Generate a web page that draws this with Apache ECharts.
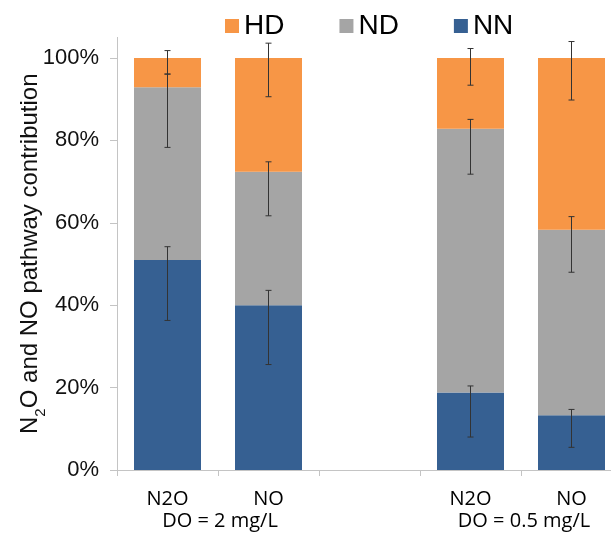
<!DOCTYPE html>
<html>
<head>
<meta charset="utf-8">
<script src="https://cdn.jsdelivr.net/npm/echarts@6/dist/echarts.min.js"></script>
<style>
  html, body { margin: 0; padding: 0; background: #fff; }
  #chart { width: 611px; height: 534px; }
</style>
</head>
<body>
<div id="chart"></div>
<script>
// ---- data (percent) ----
const categories = ['N2O', 'NO', '', 'N2O', 'NO'];
const groupLabels = ['DO = 2 mg/L', 'DO = 0.5 mg/L'];
const yTicks = [0, 20, 40, 60, 80, 100];

const NN = [51.0, 40.0, null, 18.8, 13.3];
const ND = [41.9, 32.4, null, 64.0, 45.0];
const HD = [7.1, 27.6, null, 17.2, 41.7];

// error bar extents [low, high] in stacked (cumulative) percent
const NN_err = [[36.3, 54.2], [25.6, 43.6], null, [8.0, 20.4], [5.5, 14.7]];
const ND_err = [[78.3, 96.1], [61.7, 74.8], null, [71.8, 85.1], [48.0, 61.5]];
const HD_err = [[96.1, 101.8], [90.6, 103.6], null, [93.4, 102.3], [89.8, 104.0]];

const colors = { HD: '#F79646', ND: '#A5A5A5', NN: '#366092' };

function errData(arr) {
  const out = [];
  arr.forEach((e, i) => { if (e) out.push([i, e[0], e[1]]); });
  return out;
}

function renderErr(params, api) {
  const x = api.value(0);
  const lo = api.coord([x, api.value(1)]);
  const hi = api.coord([x, api.value(2)]);
  const w = 3;
  const style = { stroke: '#333333', lineWidth: 1 };
  return {
    type: 'group',
    children: [
      { type: 'line', shape: { x1: hi[0], y1: hi[1], x2: lo[0], y2: lo[1] }, style },
      { type: 'line', shape: { x1: hi[0] - w, y1: hi[1], x2: hi[0] + w, y2: hi[1] }, style },
      { type: 'line', shape: { x1: lo[0] - w, y1: lo[1], x2: lo[0] + w, y2: lo[1] }, style }
    ]
  };
}

const chart = echarts.init(document.getElementById('chart'), null, { renderer: 'canvas' });

const barCommon = { type: 'bar', stack: 'total', barWidth: 67 };
const errCommon = { type: 'custom', renderItem: renderErr, encode: { x: 0, y: [1, 2] }, z: 10, silent: true, clip: false };

chart.setOption({
  animation: false,
  backgroundColor: '#ffffff',
  legend: {
    data: ['HD', 'ND', 'NN'],
    left: 220,
    top: 7,
    icon: 'rect',
    itemWidth: 14,
    itemHeight: 14,
    itemGap: 55,
    textStyle: { fontFamily: 'Liberation Sans', fontSize: 28, color: '#000' }
  },
  grid: { left: 117, top: 37.4, width: 505, height: 432.6, containLabel: false, outerBoundsMode: 'none' },
  xAxis: {
    type: 'category',
    data: categories,
    axisLine: { lineStyle: { color: '#c4c4c4', width: 1 } },
    axisTick: { show: true, length: 6, alignWithLabel: false, lineStyle: { color: '#c4c4c4' } },
    axisLabel: { fontFamily: 'Open Sans', fontSize: 20, color: '#000', margin: 19, interval: 0 }
  },
  yAxis: {
    type: 'value',
    min: 0,
    max: 105,
    interval: 20,
    splitLine: { show: false },
    axisLine: { show: true, lineStyle: { color: '#c4c4c4', width: 1 } },
    axisTick: { show: true, length: 7, lineStyle: { color: '#c4c4c4' }, customValues: yTicks },
    axisLabel: {
      customValues: yTicks,
      formatter: v => v + '%',
      fontFamily: 'Liberation Sans', fontSize: 22, color: '#111', margin: 18
    },
    name: '{a|N}{s|2}{a|O and NO pathway contribution}',
    nameLocation: 'middle',
    nameRotate: 90,
    nameGap: 75,
    nameMoveOverlap: false,
    nameTextStyle: {
      rich: {
        a: { fontFamily: 'Liberation Sans', fontSize: 24, color: '#111', lineHeight: 27, verticalAlign: 'bottom' },
        s: { fontFamily: 'Liberation Sans', fontSize: 15, color: '#111', lineHeight: 27, verticalAlign: 'bottom', padding: [0, 0, -6, 0] }
      }
    }
  },
  series: [
    Object.assign({ name: 'NN', data: NN, itemStyle: { color: colors.NN } }, barCommon),
    Object.assign({ name: 'ND', data: ND, itemStyle: { color: colors.ND } }, barCommon),
    Object.assign({ name: 'HD', data: HD, itemStyle: { color: colors.HD } }, barCommon),
    Object.assign({ name: 'NN_err', data: errData(NN_err) }, errCommon),
    Object.assign({ name: 'ND_err', data: errData(ND_err) }, errCommon),
    Object.assign({ name: 'HD_err', data: errData(HD_err) }, errCommon)
  ],
  graphic: [
    { type: 'text', x: 220, y: 521, style: { text: groupLabels[0], font: '20px "Open Sans"', fill: '#000', align: 'center', verticalAlign: 'middle' } },
    { type: 'text', x: 524, y: 521, style: { text: groupLabels[1], font: '20px "Open Sans"', fill: '#000', align: 'center', verticalAlign: 'middle' } }
  ]
});
</script>
</body>
</html>
